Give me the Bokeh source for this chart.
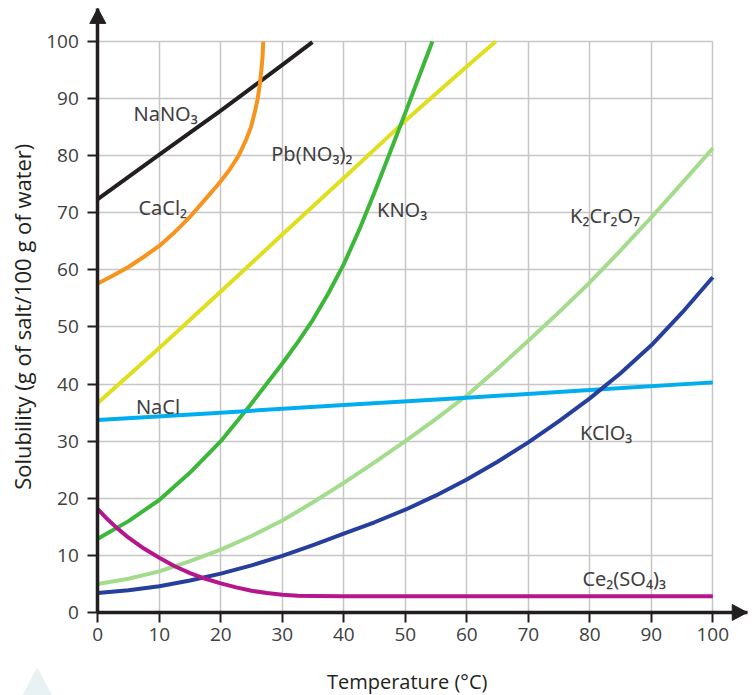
import math
from bokeh.plotting import figure
from bokeh.models import Range1d, FixedTicker, ColumnDataSource
from bokeh.core.properties import value
from bokeh.embed import file_html
from bokeh.resources import INLINE

# ---------------- data ----------------
x_ticks = [0, 10, 20, 30, 40, 50, 60, 70, 80, 90, 100]
y_ticks = [0, 10, 20, 30, 40, 50, 60, 70, 80, 90, 100]

nano3_t = [0, 10, 20, 30, 34.9]
nano3_s = [72.4, 80.2, 87.9, 95.9, 99.9]

cacl2_t = [0, 2.5, 5, 7.5, 10, 12.5, 15, 17.5, 19.6, 21.4, 22.9, 24.0, 24.9, 25.5,
           26.0, 26.35, 26.6, 26.8, 26.9]
cacl2_s = [57.6, 59.0, 60.5, 62.3, 64.2, 66.6, 69.3, 72.4, 75.0, 77.5, 80.0, 82.5,
           85.0, 87.5, 90.0, 92.5, 95.0, 97.5, 100.0]

pbno32_t = [0, 10, 20, 30, 40, 50, 60, 64.7]
pbno32_s = [36.7, 46.3, 56.2, 66.2, 76.1, 86.1, 95.6, 100.0]

kno3_t = [0, 5, 10, 15, 20, 25, 30, 32.5, 35, 37.5, 40, 42.5, 45, 47.5, 50, 52.5, 54.4]
kno3_s = [12.9, 16.0, 19.7, 24.5, 30.0, 36.6, 43.6, 47.3, 51.3, 55.9, 61.0, 67.0,
          73.6, 80.5, 87.5, 94.6, 100.0]

k2cr2o7_t = [0, 5, 10, 15, 20, 25, 30, 35, 40, 45, 50, 55, 60, 65, 70, 75, 80, 85, 90, 95, 100]
k2cr2o7_s = [5.0, 5.9, 7.2, 9.0, 11.0, 13.4, 16.1, 19.3, 22.7, 26.3, 30.0, 33.9, 38.0,
             42.7, 47.6, 52.6, 57.8, 63.4, 69.2, 75.2, 81.3]

nacl_t = [0, 20, 40, 60, 80, 100]
nacl_s = [33.7, 35.0, 36.35, 37.6, 38.95, 40.3]

kclo3_t = [0, 5, 10, 15, 20, 25, 30, 35, 40, 45, 50, 55, 60, 65, 70, 75, 80, 85, 90, 95, 100]
kclo3_s = [3.4, 3.9, 4.6, 5.6, 6.8, 8.25, 9.9, 11.8, 13.8, 15.8, 18.0, 20.5, 23.3,
           26.4, 29.8, 33.5, 37.5, 41.9, 46.8, 52.5, 58.7]

ce2so43_t = [0, 1.5, 3, 5, 7.5, 10, 12.5, 15, 17.5, 20, 22.5, 25, 27.5, 30, 32.5, 35, 40, 100]
ce2so43_s = [18.1, 16.4, 14.9, 13.1, 11.2, 9.6, 8.1, 6.9, 5.9, 5.1, 4.4, 3.8, 3.4, 3.1,
             2.95, 2.9, 2.85, 2.85]

series_names = ["NaNO₃", "CaCl₂", "Pb(NO₃)₂", "KNO₃", "K₂Cr₂O₇", "NaCl", "KClO₃", "Ce₂(SO₄)₃"]
series_t = [nano3_t, cacl2_t, pbno32_t, kno3_t, k2cr2o7_t, nacl_t, kclo3_t, ce2so43_t]
series_s = [nano3_s, cacl2_s, pbno32_s, kno3_s, k2cr2o7_s, nacl_s, kclo3_s, ce2so43_s]

# label anchor positions (left / baseline), in data units
label_x = [5.8, 6.6, 28.2, 45.4, 76.8, 6.2, 78.4, 78.8]
label_y = [87.4, 71.0, 80.4, 70.5, 69.5, 36.0, 31.6, 5.9]

x_title = "Temperature (°C)"
y_title = "Solubility (g of salt/100 g of water)"

# ---------------- layout / styles ----------------
colors = ["#231f20", "#f7941d", "#dfdf1f", "#3db73a", "#a2dc8c",
          "#00aeef", "#263f9c", "#b5168c"]
axis_col = "#231f20"
text_col = "#404040"

X_END, Y_END = 105.6, 105.8          # arrow tips of the axes

p = figure(width=754, height=695,
           x_range=Range1d(-15.82, 106.78), y_range=Range1d(-14.54, 107.18),
           output_backend="svg", toolbar_location=None,
           min_border_left=0, min_border_right=0,
           min_border_top=0, min_border_bottom=0)
p.outline_line_color = None
p.background_fill_color = "white"
p.border_fill_color = "white"

for ax, ticks, bnd in ((p.xaxis, x_ticks, (0, X_END)), (p.yaxis, y_ticks, (0, Y_END))):
    ax.ticker = FixedTicker(ticks=ticks)
    ax.fixed_location = 0
    ax.bounds = bnd
    ax.minor_tick_line_color = None
    ax.major_tick_in = 0
    ax.major_tick_out = 10
    ax.major_tick_line_width = 2
    ax.major_tick_line_color = axis_col
    ax.axis_line_width = 3.5
    ax.axis_line_color = axis_col
    ax.major_label_text_font = "Open Sans"
    ax.major_label_text_font_size = "19px"
    ax.major_label_text_color = text_col
p.xaxis.major_label_standoff = 6
p.yaxis.major_label_standoff = 9

for g in (p.xgrid, p.ygrid):
    g.grid_line_color = "#c6c6c6"
    g.grid_line_width = 1.5
    g.bounds = (0, 100)
    g.cross_bounds = (0, 100)

# faint decorative triangle at lower left
p.patch([-12.3, -9.85, -7.4], [-14.6, -9.6, -14.6], fill_color="#e8f2f4", line_color=None)

for t, s, c in zip(series_t, series_s, colors):
    p.line(t, s, line_color=c, line_width=4, line_join="round")

src = ColumnDataSource(dict(x=label_x, y=label_y, text=series_names))
p.text(x="x", y="y", text="text", source=src,
       text_font=value("Noto Sans"), text_font_size="20px",
       text_color=text_col, text_align="left", text_baseline="alphabetic")

# axis arrow heads (15 px long, 16 px wide)
hx, hy = 15 / 6.15, 8 / 5.71
vx, vy = 8 / 6.15, 15 / 5.71
p.patch([X_END, X_END - hx, X_END - hx], [0, hy, -hy], fill_color=axis_col, line_color=axis_col)
p.patch([0, -vx, vx], [Y_END, Y_END - vy, Y_END - vy], fill_color=axis_col, line_color=axis_col)

# axis titles
p.text(x=[50.3], y=[-12.1], text=[x_title], text_align="center",
       text_baseline="alphabetic", text_font=value("Open Sans"),
       text_font_size="20px", text_color="#231f20")
p.text(x=[-12.3], y=[51.8], text=[y_title], angle=math.pi / 2,
       text_align="center", text_baseline="middle",
       text_font=value("Open Sans"), text_font_size="22px", text_color="#231f20")

open("out.html", "w").write(file_html(p, INLINE))
